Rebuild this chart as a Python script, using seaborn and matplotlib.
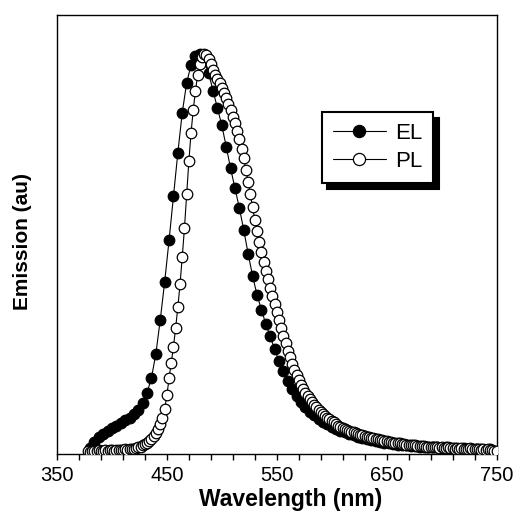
import numpy as np
import pandas as pd
import matplotlib
matplotlib.use("Agg")
import matplotlib.pyplot as plt
import seaborn as sns

# ---------------- data ----------------
el_wavelength = np.arange(380, 745, 4)
el_emission = [
    0.008, 0.022, 0.034, 0.043, 0.051, 0.058, 0.064, 0.070, 0.077, 0.084,
    0.093, 0.104, 0.121, 0.147, 0.184, 0.245, 0.330, 0.425, 0.530, 0.640,
    0.750, 0.850, 0.925, 0.970, 0.993, 0.997, 0.980, 0.950, 0.905, 0.862,
    0.818, 0.765, 0.710, 0.660, 0.610, 0.555, 0.495, 0.440, 0.393, 0.355,
    0.320, 0.288, 0.256, 0.226, 0.200, 0.176, 0.155, 0.138, 0.123, 0.110,
    0.099, 0.090, 0.081, 0.074, 0.067, 0.061, 0.056, 0.051, 0.047, 0.043,
    0.039, 0.036, 0.033, 0.030, 0.027, 0.025, 0.023, 0.021, 0.019, 0.017,
    0.016, 0.015, 0.014, 0.013, 0.012, 0.011, 0.011, 0.010, 0.009, 0.010,
    0.008, 0.009, 0.007, 0.008, 0.006, 0.007, 0.005, 0.006, 0.004, 0.005,
    0.003, 0.004,
]

pl_wavelength = np.arange(378, 751, 2)
pl_emission = [
    0.000, -0.002, 0.000, 0.001, -0.001, 0.002, 0.001, 0.000, 0.002, 0.001,
    0.003, 0.002, 0.001, 0.003, 0.002, 0.003, 0.002, 0.004, 0.003, 0.004,
    0.005, 0.006, 0.007, 0.009, 0.011, 0.014, 0.017, 0.020, 0.025, 0.030,
    0.037, 0.046, 0.056, 0.068, 0.082, 0.105, 0.140, 0.183, 0.222, 0.262,
    0.310, 0.362, 0.420, 0.488, 0.560, 0.645, 0.728, 0.800, 0.857, 0.905,
    0.945, 0.972, 0.990, 0.998, 0.995, 0.986, 0.972, 0.958, 0.946, 0.935,
    0.924, 0.913, 0.900, 0.886, 0.871, 0.856, 0.840, 0.823, 0.804, 0.784,
    0.760, 0.735, 0.706, 0.676, 0.645, 0.612, 0.581, 0.552, 0.525, 0.500,
    0.476, 0.452, 0.431, 0.410, 0.390, 0.370, 0.350, 0.330, 0.310, 0.290,
    0.271, 0.252, 0.236, 0.219, 0.204, 0.190, 0.178, 0.166, 0.156, 0.147,
    0.138, 0.130, 0.123, 0.116, 0.110, 0.104, 0.098, 0.093, 0.088, 0.084,
    0.080, 0.076, 0.072, 0.068, 0.064, 0.061, 0.058, 0.056, 0.053, 0.051,
    0.049, 0.047, 0.045, 0.043, 0.041, 0.040, 0.038, 0.036, 0.035, 0.033,
    0.032, 0.030, 0.029, 0.028, 0.027, 0.026, 0.024, 0.023, 0.022, 0.021,
    0.020, 0.019, 0.019, 0.018, 0.017, 0.016, 0.016, 0.015, 0.015, 0.014,
    0.013, 0.013, 0.012, 0.012, 0.011, 0.011, 0.010, 0.010, 0.009, 0.010,
    0.008, 0.009, 0.008, 0.007, 0.009, 0.007, 0.008, 0.006, 0.007, 0.006,
    0.008, 0.005, 0.006, 0.005, 0.007, 0.004, 0.005, 0.004, 0.006, 0.003,
    0.004, 0.003, 0.005, 0.002, 0.003, 0.001, 0.000,
]

x_ticks = [350, 450, 550, 650, 750]
x_minor = np.arange(350, 751, 20)
series_labels = ["EL", "PL"]
x_label = "Wavelength (nm)"
y_label = "Emission (au)"

el_df = pd.DataFrame({"wavelength": el_wavelength, "emission": el_emission})
pl_df = pd.DataFrame({"wavelength": pl_wavelength, "emission": pl_emission})

# ---------------- style ----------------
sns.set_theme(style="white")
plt.rcParams["font.family"] = ["Liberation Sans", "DejaVu Sans"]

fig = plt.figure(figsize=(5.18, 5.13), dpi=100)
ax = fig.add_axes([57 / 518, 1 - 454 / 513, 439.5 / 518, 439 / 513])

common = dict(color="black", linewidth=0.8, marker="o", markersize=7.6,
              markeredgecolor="black", markeredgewidth=0.9, ax=ax)
sns.lineplot(data=el_df, x="wavelength", y="emission", markerfacecolor="black",
             label=series_labels[0], zorder=2, **common)
sns.lineplot(data=pl_df, x="wavelength", y="emission", markerfacecolor="white",
             label=series_labels[1], zorder=3, **common)

ax.set_xlim(350, 750)
ax.set_ylim(-0.0075, 1.0955)
ax.set_xticks(x_ticks)
ax.set_xticks(x_minor, minor=True)
ax.set_yticks([])

for s in ax.spines.values():
    s.set_visible(True)
    s.set_color("black")
    s.set_linewidth(1.0)

ax.tick_params(axis="x", which="both", direction="out", bottom=True,
               length=4, width=1.0, color="black", labelsize=14.5, pad=4.5,
               labelcolor="black")
ax.tick_params(axis="y", left=False, labelleft=False)

ax.set_xlabel(x_label, fontsize=16.5, fontweight="bold", color="black")
ax.xaxis.set_label_coords(0.531, -0.077)
ax.xaxis.label.set_va("top")
ax.set_ylabel(y_label, fontsize=15, fontweight="bold", color="black")
ax.yaxis.set_label_coords(-0.056, 0.484)

leg = ax.legend(loc="upper left", bbox_to_anchor=(0.602, 0.779),
                borderaxespad=0, fontsize=16, frameon=True, fancybox=False,
                edgecolor="black", framealpha=1, borderpad=0.5,
                labelspacing=0.3, handlelength=2.4, handletextpad=0.4,
                markerscale=1.15,
                shadow={"ox": 4, "oy": -4.5, "color": "black", "alpha": 1})
leg.get_frame().set_linewidth(1.5)
for t in leg.get_texts():
    t.set_color("black")

fig.savefig("out.png", dpi=100)
